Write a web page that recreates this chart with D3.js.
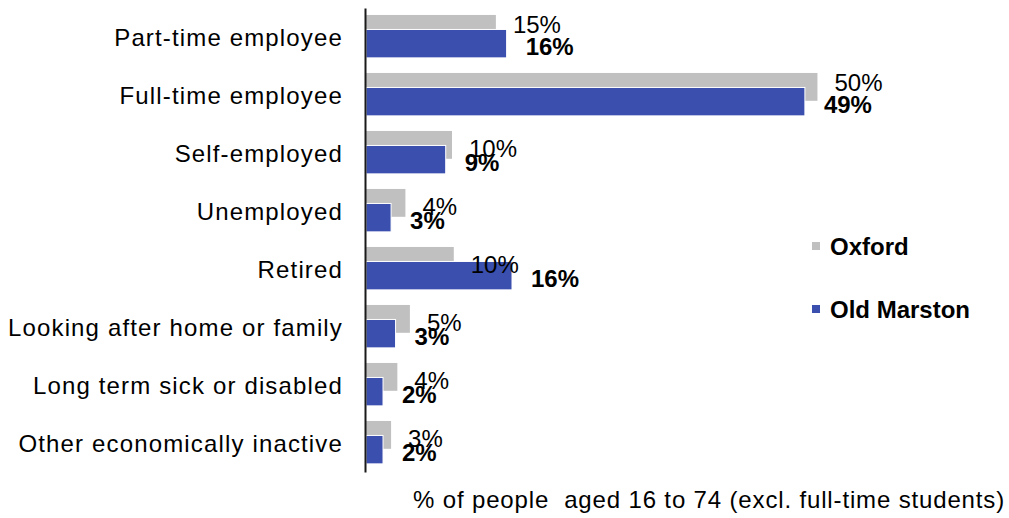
<!DOCTYPE html>
<html>
<head>
<meta charset="utf-8">
<script src="https://cdn.jsdelivr.net/npm/d3@7"></script>
<style>
  html, body { margin: 0; padding: 0; background: #fff; }
  svg { display: block; font-family: "Liberation Sans", Arial, sans-serif; }
</style>
</head>
<body>
<svg id="chart" width="1009" height="518"></svg>
<script>
const categories = [
  "Part-time employee",
  "Full-time employee",
  "Self-employed",
  "Unemployed",
  "Retired",
  "Looking after home or family",
  "Long term sick or disabled",
  "Other economically inactive"
];
const oxford = [14.5, 50.4, 9.6, 4.4, 9.8, 4.9, 3.5, 2.8];
const oldMarston = [15.7, 49.0, 8.9, 2.8, 16.3, 3.3, 1.9, 1.9];
const seriesNames = ["Oxford", "Old Marston"];
const axisTitle = "% of people  aged 16 to 74 (excl. full-time students)";

const GRAY = "#c0c0c0";
const BLUE = "#3a4fae";

const svg = d3.select("#chart");

const x = d3.scaleLinear().domain([0, 70]).range([366, 993]);
const y = d3.scaleBand().domain(categories).range([8, 472]).paddingInner(0).paddingOuter(0);
const bw = y.bandwidth();

const data = categories.map((c, i) => ({ cat: c, ox: oxford[i], om: oldMarston[i] }));

// Oxford (gray) bars
svg.append("g").selectAll("rect").data(data).join("rect")
  .attr("x", x(0))
  .attr("y", d => y(d.cat) + bw * 0.12)
  .attr("width", d => x(d.ox) - x(0))
  .attr("height", bw * 0.48)
  .attr("fill", GRAY);

// Old Marston (blue) bars
svg.append("g").selectAll("rect").data(data).join("rect")
  .attr("x", x(0))
  .attr("y", d => y(d.cat) + bw * 0.37)
  .attr("width", d => x(d.om) - x(0))
  .attr("height", bw * 0.49)
  .attr("fill", BLUE)
  .attr("stroke", "#fff")
  .attr("stroke-width", 1);

// Axis (vertical category axis, no ticks)
const yAxis = d3.axisLeft(y).tickSize(0).tickPadding(22);
const ag = svg.append("g").attr("transform", `translate(${x(0) - 1},0)`).call(yAxis);
ag.select(".domain").attr("stroke", "#1a1a1a").attr("stroke-width", 2);
ag.selectAll(".tick text")
  .attr("font-size", 24)
  .attr("font-family", "Liberation Sans, Arial, sans-serif")
  .attr("letter-spacing", "1.15px")
  .attr("fill", "#000")
  .attr("dy", "0.38em")
  .attr("y", -0.5);

// Data labels: Oxford (normal)
svg.append("g").selectAll("text").data(data).join("text")
  .attr("x", d => x(d.ox) + 17)
  .attr("y", d => y(d.cat) + (d.ox >= 12 && d.om >= 12 ? 24.5 : 33))
  .attr("font-size", 24)
  .attr("fill", "#000")
  .text(d => Math.round(d.ox) + "%");

// Data labels: Old Marston (bold)
svg.append("g").selectAll("text").data(data).join("text")
  .attr("x", d => x(d.om) + 19)
  .attr("y", d => y(d.cat) + 47)
  .attr("font-size", 24)
  .attr("font-weight", "bold")
  .attr("fill", "#000")
  .text(d => Math.round(d.om) + "%");

// Legend
const legend = svg.append("g").attr("transform", "translate(812,242)");
const lg = legend.selectAll("g").data(seriesNames).join("g")
  .attr("transform", (d, i) => `translate(0,${i * 63})`);
lg.append("rect").attr("width", 8).attr("height", 8)
  .attr("fill", (d, i) => i === 0 ? GRAY : BLUE);
lg.append("text").attr("x", 18).attr("y", 13)
  .attr("font-size", 24).attr("font-weight", "bold").attr("fill", "#000")
  .text(d => d);

// Axis title
svg.append("text")
  .attr("x", 413).attr("y", 508)
  .attr("font-size", 24)
  .attr("letter-spacing", "0.85px")
  .attr("fill", "#000")
  .attr("xml:space", "preserve")
  .style("white-space", "pre")
  .text(axisTitle);
</script>
</body>
</html>
